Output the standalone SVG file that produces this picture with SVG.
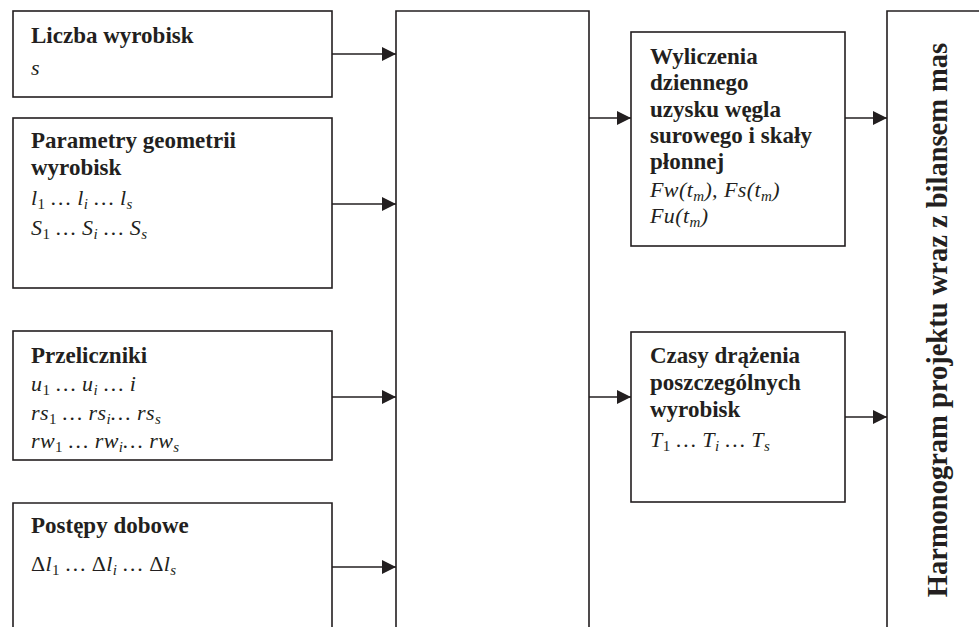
<svg xmlns="http://www.w3.org/2000/svg" width="979" height="627" viewBox="0 0 979 627">
<defs>
<style>
.box{fill:#fff;stroke:#231f20;stroke-width:1.6}
.open{fill:none;stroke:#231f20;stroke-width:1.6}
.conn{stroke:#231f20;stroke-width:1.6;fill:none;marker-end:url(#arr)}
text{font-family:"Liberation Serif","Times New Roman",serif;fill:#231f20}
.t{font-size:23px;font-weight:bold}
.m{font-size:22px;font-style:italic;letter-spacing:0.4px}
.sb{font-size:15px;font-style:normal}
.si{font-size:15px;font-style:italic}
.big{font-size:28.5px;font-weight:bold}
</style>
<marker id="arr" markerWidth="14" markerHeight="14" refX="14" refY="7" orient="auto" markerUnits="userSpaceOnUse">
<path d="M0,0 L14,7 L0,14 Z" fill="#231f20"/>
</marker>
</defs>

<g id="connectors">
<line class="conn" x1="332" y1="54" x2="396" y2="54"/>
<line class="conn" x1="332" y1="204" x2="396" y2="204"/>
<line class="conn" x1="332" y1="397" x2="396" y2="397"/>
<line class="conn" x1="332" y1="567" x2="396" y2="567"/>
<line class="conn" x1="589" y1="118" x2="631" y2="118"/>
<line class="conn" x1="589" y1="397" x2="631" y2="397"/>
<line class="conn" x1="845" y1="118" x2="887" y2="118"/>
<line class="conn" x1="845" y1="417" x2="887" y2="417"/>
</g>

<g id="liczba">
<rect class="box" x="13" y="11" width="319" height="86"/>
<text class="t" x="31" y="43">Liczba wyrobisk</text>
<text class="m" x="31" y="75">s</text>
</g>

<g id="parametry">
<rect class="box" x="13" y="118" width="319" height="170"/>
<text class="t" x="31" y="148">Parametry geometrii</text>
<text class="t" x="31" y="175">wyrobisk</text>
<text class="m" x="31" y="205">l<tspan class="sb" dy="4">1</tspan><tspan dy="-4"> … l</tspan><tspan class="si" dy="4">i</tspan><tspan dy="-4"> … l</tspan><tspan class="si" dy="4">s</tspan></text>
<text class="m" x="31" y="235">S<tspan class="sb" dy="4">1</tspan><tspan dy="-4"> … S</tspan><tspan class="si" dy="4">i</tspan><tspan dy="-4">  … S</tspan><tspan class="si" dy="4">s</tspan></text>
</g>

<g id="przeliczniki">
<rect class="box" x="13" y="331" width="319" height="129"/>
<text class="t" x="31" y="363">Przeliczniki</text>
<text class="m" x="31" y="391">u<tspan class="sb" dy="4">1</tspan><tspan dy="-4"> … u</tspan><tspan class="si" dy="4">i</tspan><tspan dy="-4"> … i</tspan></text>
<text class="m" x="31" y="420">rs<tspan class="sb" dy="4">1</tspan><tspan dy="-4"> … rs</tspan><tspan class="si" dy="4">i</tspan><tspan dy="-4">… rs</tspan><tspan class="si" dy="4">s</tspan></text>
<text class="m" x="31" y="448">rw<tspan class="sb" dy="4">1</tspan><tspan dy="-4"> … rw</tspan><tspan class="si" dy="4">i</tspan><tspan dy="-4">… rw</tspan><tspan class="si" dy="4">s</tspan></text>
</g>

<g id="postepy">
<path class="open" d="M13,627 L13,503 L332,503 L332,627"/>
<text class="t" x="31" y="533">Postępy dobowe</text>
<text class="m" x="31" y="571"><tspan font-style="normal">Δ</tspan>l<tspan class="sb" dy="4">1</tspan><tspan dy="-4"> … </tspan><tspan font-style="normal">Δ</tspan>l<tspan class="si" dy="4">i</tspan><tspan dy="-4"> … </tspan><tspan font-style="normal">Δ</tspan>l<tspan class="si" dy="4">s</tspan></text>
</g>

<g id="central">
<path class="open" d="M396,627 L396,11 L589,11 L589,627"/>
</g>

<g id="wyliczenia">
<rect class="box" x="631" y="32" width="214" height="214"/>
<text class="t" x="650" y="64">Wyliczenia</text>
<text class="t" x="650" y="90">dziennego</text>
<text class="t" x="650" y="117">uzysku węgla</text>
<text class="t" x="650" y="143">surowego i skały</text>
<text class="t" x="650" y="169">płonnej</text>
<text class="m" x="650" y="197">Fw(t<tspan class="si" dy="4">m</tspan><tspan dy="-4">), Fs(t</tspan><tspan class="si" dy="4">m</tspan><tspan dy="-4">)</tspan></text>
<text class="m" x="650" y="223">Fu(t<tspan class="si" dy="4">m</tspan><tspan dy="-4">)</tspan></text>
</g>

<g id="czasy">
<rect class="box" x="631" y="332" width="214" height="170"/>
<text class="t" x="650" y="363">Czasy drążenia</text>
<text class="t" x="650" y="390">poszczególnych</text>
<text class="t" x="650" y="417">wyrobisk</text>
<text class="m" x="650" y="447">T<tspan class="sb" dy="4">1</tspan><tspan dy="-4"> … T</tspan><tspan class="si" dy="4">i</tspan><tspan dy="-4"> … T</tspan><tspan class="si" dy="4">s</tspan></text>
</g>

<g id="harmonogram">
<path class="open" d="M979,11 L887,11 L887,627"/>
<text class="big" text-anchor="middle" transform="translate(947,320) rotate(-90)">Harmonogram projektu wraz z bilansem mas</text>
</g>
</svg>
